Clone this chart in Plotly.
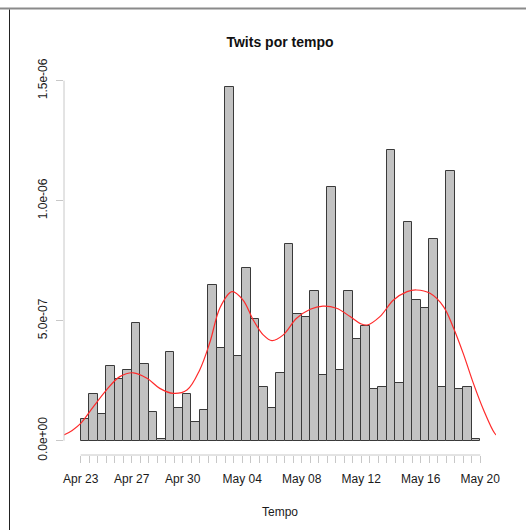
import plotly.graph_objects as go

# ---- data ----
bar_density = [8.9e-8, 1.93e-7, 1.10e-7, 3.13e-7, 2.56e-7, 2.96e-7, 4.89e-7, 3.21e-7,
               1.20e-7, 8e-9, 3.68e-7, 1.36e-7, 1.93e-7, 7.9e-8, 1.29e-7, 6.49e-7,
               3.85e-7, 1.475e-6, 3.54e-7, 7.21e-7, 5.06e-7, 2.25e-7, 1.36e-7, 2.81e-7,
               8.18e-7, 5.28e-7, 5.14e-7, 6.25e-7, 2.74e-7, 1.058e-6, 2.96e-7, 6.25e-7,
               4.25e-7, 4.79e-7, 2.15e-7, 2.25e-7, 1.211e-6, 2.42e-7, 9.13e-7, 5.86e-7,
               5.54e-7, 8.40e-7, 2.25e-7, 1.124e-6, 2.15e-7, 2.25e-7, 7e-9]

curve_x = [-2.2, -1.0, 0, 1.5, 3.0, 4.6, 6.2, 7.8, 9.3, 10.9, 12.5, 14.0, 15.2, 16.4,
           17.8, 19.1, 20.3, 21.5, 22.5, 23.8, 25.4, 27.0, 28.5, 30.1, 31.7, 32.9,
           33.7, 35.2, 36.8, 38.4, 39.5, 41.1, 42.7, 43.8, 45.0, 46.2, 47.4, 48.7, 49.2]
curve_y = [2.0e-8, 4.3e-8, 7.2e-8, 1.42e-7, 2.10e-7, 2.67e-7, 2.83e-7, 2.60e-7, 2.18e-7,
           1.97e-7, 2.11e-7, 2.95e-7, 4.1e-7, 5.55e-7, 6.21e-7, 5.86e-7, 5.03e-7, 4.40e-7,
           4.17e-7, 4.40e-7, 5.10e-7, 5.48e-7, 5.61e-7, 5.52e-7, 5.17e-7, 4.88e-7, 4.82e-7,
           5.17e-7, 5.86e-7, 6.21e-7, 6.28e-7, 6.14e-7, 5.58e-7, 4.75e-7, 3.64e-7, 2.39e-7,
           1.28e-7, 3.1e-8, 1.5e-8]

x_tick_labels = ["Apr 23", "Apr 27", "Apr 30", "May 04", "May 08", "May 12", "May 16", "May 20"]
x_tick_label_pos = [0, 6, 12, 19, 26, 33, 40, 47]

y_tick_vals = [0, 5e-7, 1e-6, 1.5e-6]
y_tick_text = ["0.0e+00", "5.0e-07", "1.0e-06", "1.5e-06"]

title = "Twits por tempo"
x_title = "Tempo"

# ---- figure ----
n_bins = len(bar_density)
bar_centers = [i + 0.5 for i in range(n_bins)]
edge_ticks = list(range(n_bins + 1))
edge_text = [x_tick_labels[x_tick_label_pos.index(t)] if t in x_tick_label_pos else "" for t in edge_ticks]

W, H = 526, 530
ML, MR, MT, MB = 64, 30, 70, 75
pw, ph = W - ML - MR, H - MT - MB
bin_px = 8.5
x0_px = 80.7
x_lo = -(x0_px - ML) / bin_px
x_hi = x_lo + pw / bin_px
px_per_unit = 240e6
base_px = 440.7
y_lo = -((H - MB) - base_px) / px_per_unit
y_hi = y_lo + ph / px_per_unit

font_family = "Liberation Sans, Arial, Helvetica, sans-serif"
axis_gray = "#c8c8c8"

fig = go.Figure()
fig.add_trace(go.Bar(
    x=bar_centers, y=bar_density, width=1,
    marker=dict(color="#c2c2c2", line=dict(color="#3a3a3a", width=1)),
    showlegend=False, hoverinfo="y"))
fig.add_trace(go.Scatter(
    x=curve_x, y=curve_y, mode="lines",
    line=dict(color="#ff2a2a", width=1.2, shape="spline", smoothing=1),
    showlegend=False))

fig.update_layout(
    width=W, height=H,
    margin=dict(l=ML, r=MR, t=MT, b=MB, pad=0),
    paper_bgcolor="white", plot_bgcolor="white",
    bargap=0,
    font=dict(family=font_family, size=12, color="#1a1a1a"),
    title=dict(text="<b>" + title + "</b>", x=(280) / W, xanchor="center",
               y=1 - 42 / H, yanchor="middle", yref="container",
               font=dict(size=14, color="#111", family=font_family)),
    xaxis=dict(range=[x_lo, x_hi], tickmode="array", tickvals=edge_ticks, ticktext=edge_text,
               ticks="outside", ticklen=7, tickcolor=axis_gray, tickwidth=1,
               showline=False, showgrid=False, zeroline=False,
               ticklabelstandoff=6, tickfont=dict(size=12, color="#1a1a1a")),
    yaxis=dict(range=[y_lo, y_hi], tickmode="array", tickvals=y_tick_vals, ticktext=y_tick_text,
               ticks="outside", ticklen=7, tickcolor=axis_gray, tickwidth=1, tickangle=-90,
               showline=False, showgrid=False, zeroline=False,
               ticklabelstandoff=4, tickfont=dict(size=12, color="#1a1a1a")),
    annotations=[dict(text=x_title, xref="paper", yref="paper",
                      x=(280 - ML) / pw, y=-(512 - (H - MB)) / ph,
                      xanchor="center", yanchor="middle", showarrow=False,
                      font=dict(size=12, color="#1a1a1a"))],
    shapes=[
        # detached R-style axis lines spanning first to last tick
        dict(type="line", xref="x", yref="paper", x0=edge_ticks[0], x1=edge_ticks[-1],
             y0=0, y1=0, line=dict(color=axis_gray, width=1)),
        dict(type="line", xref="paper", yref="y", x0=0, x1=0,
             y0=y_tick_vals[0], y1=y_tick_vals[-1], line=dict(color=axis_gray, width=1)),
        # screenshot frame
        dict(type="line", xref="paper", yref="paper", x0=-ML / pw, x1=(W - ML) / pw,
             y0=((H - MB) - 8.5) / ph, y1=((H - MB) - 8.5) / ph,
             line=dict(color="#8a8a8a", width=2)),
        dict(type="line", xref="paper", yref="paper", x0=(9.5 - ML) / pw, x1=(9.5 - ML) / pw,
             y0=((H - MB) - 9.5) / ph, y1=-(MB) / ph,
             line=dict(color="#222", width=1)),
    ],
)

fig.write_html("out.html", config={"displayModeBar": False},
               post_script="document.body.style.margin='0';")
